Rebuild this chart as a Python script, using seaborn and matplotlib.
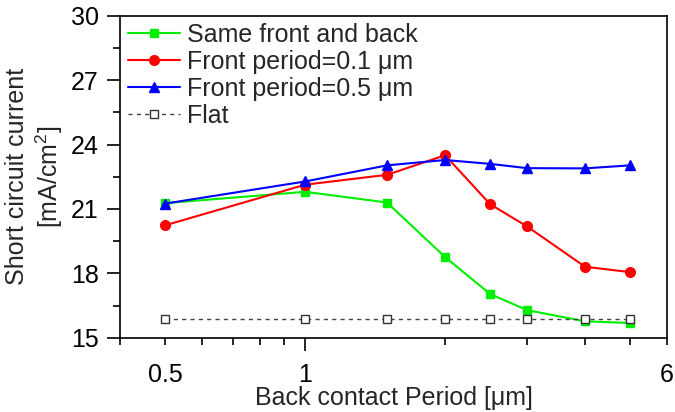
import matplotlib
matplotlib.use("Agg")
import matplotlib.pyplot as plt
import seaborn as sns
import pandas as pd
import numpy as np
from matplotlib.ticker import FixedLocator

period = [0.5, 1, 1.5, 2, 2.5, 3, 4, 5]
same_front_back = [21.27, 21.80, 21.30, 18.76, 17.04, 16.29, 15.77, 15.69]
front_01 = [20.24, 22.13, 22.59, 23.50, 21.22, 20.19, 18.31, 18.06]
front_05 = [21.25, 22.28, 23.03, 23.28, 23.10, 22.90, 22.89, 23.03]
flat = [15.89, 15.89, 15.89, 15.89, 15.89, 15.89, 15.89, 15.89]

labels = ["Same front and back", "Front period=0.1 \u03bcm", "Front period=0.5 \u03bcm", "Flat"]
series = [same_front_back, front_01, front_05, flat]

sns.set_theme(style="ticks")
plt.rcParams['font.family'] = ['Liberation Sans', 'DejaVu Sans']
plt.rcParams['mathtext.fontset'] = 'custom'
plt.rcParams['mathtext.rm'] = 'Liberation Sans'

df = pd.DataFrame({
    "period": np.tile(period, len(series)),
    "jsc": np.concatenate(series),
    "series": np.repeat(labels, len(period)),
})

fig = plt.figure(figsize=(6.75, 4.12), dpi=100)
ax = fig.add_axes([0.178, 0.180, 0.810, 0.782])

FS = 18
styles = [
    dict(color="#00ee00", marker="s", markersize=6, linestyle="-", lw=1.5, mfc="#00ee00", mec="#00ee00"),
    dict(color="#ff0000", marker="o", markersize=7, linestyle="-", lw=1.5, mfc="#ff0000", mec="#ff0000"),
    dict(color="#0000ff", marker="^", markersize=7.5, linestyle="-", lw=1.5, mfc="#0000ff", mec="#0000ff"),
    dict(color="#444444", marker="s", markersize=6, linestyle=(0, (3, 3)), lw=1.0, mfc="white", mec="#333333"),
]
for lab, st in zip(labels, styles):
    sub = df[df["series"] == lab]
    sns.lineplot(data=sub, x="period", y="jsc", ax=ax, label=lab,
                 color=st["color"], marker=st["marker"], markersize=st["markersize"],
                 linestyle=st["linestyle"], linewidth=st["lw"],
                 markerfacecolor=st["mfc"], markeredgecolor=st["mec"], markeredgewidth=1.0)

ax.set_xscale("log")
ax.set_xlim(0.4, 6)
ax.set_ylim(15, 30)

ax.xaxis.set_major_locator(FixedLocator([1]))
ax.set_xticklabels(["1"])
minor = [0.4, 0.5, 0.6, 0.7, 0.8, 0.9, 2, 3, 4, 5, 6]
ax.set_xticks(minor, minor=True)
ax.set_xticklabels(["" if m not in (0.5, 6) else ("0.5" if m == 0.5 else "6") for m in minor], minor=True)

ax.set_yticks([15, 18, 21, 24, 27, 30])
ax.set_yticks(np.arange(15, 30.1, 1.5), minor=True)

ax.tick_params(axis="both", which="both", direction="out", width=1.2, labelsize=FS, colors="black")
ax.tick_params(axis="x", which="major", length=9.5, pad=8.6)
ax.tick_params(axis="x", which="minor", length=5, pad=13)
ax.tick_params(axis="y", which="major", length=9.5, pad=6)
ax.tick_params(axis="y", which="minor", length=5)

for s in ax.spines.values():
    s.set_linewidth(1.2)
    s.set_color("black")

ax.set_xlabel("Back contact Period [\u03bcm]", fontsize=FS, labelpad=-1)
ax.set_ylabel("Short circuit current\n[mA/cm$^2$]", fontsize=FS, labelpad=4, linespacing=1.2)

leg = ax.legend(loc="upper left", frameon=False, fontsize=FS, handlelength=2.08,
                handletextpad=0.28, labelspacing=0.12, borderaxespad=0.0, borderpad=0.3,
                bbox_to_anchor=(0.0, 1.0))

fig.savefig("out.png", dpi=100)
